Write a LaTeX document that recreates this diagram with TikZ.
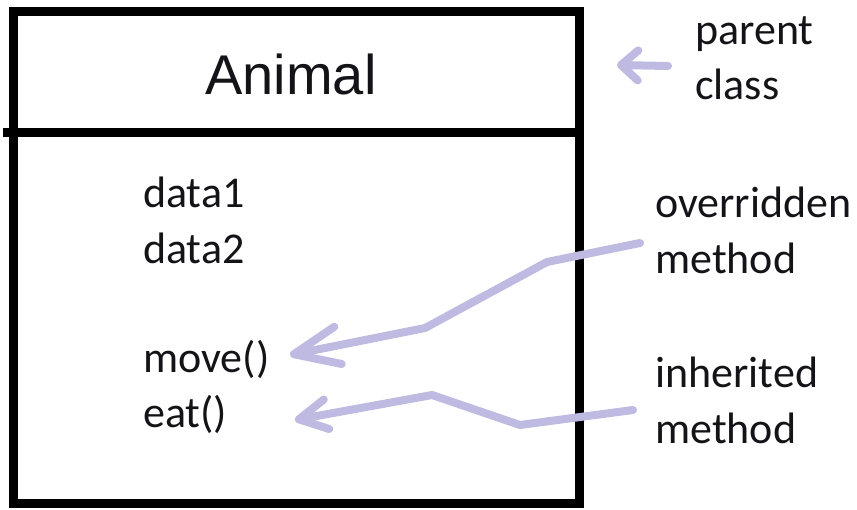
\documentclass[tikz,border=0pt]{standalone}
\usepackage{fontspec}
\setmainfont{Carlito}
\newfontfamily\titlefont{Liberation Sans}
\usetikzlibrary{arrows.meta}
\definecolor{pointer}{RGB}{190,186,226}
\definecolor{ink}{RGB}{20,20,24}
\begin{document}
\begin{tikzpicture}[x=1pt,y=-1pt,
  txt/.style={anchor=base west,inner sep=0pt,text=ink,font=\fontsize{44}{54}\selectfont},
  boxline/.style={line width=9pt,draw=black},
  pointerline/.style={draw=pointer,line width=8pt,line cap=round,line join=round},
]
\useasboundingbox (0,0) rectangle (857,510);
% class box with title compartment
\draw[boxline] (13,12) rectangle (579,503);
\draw[boxline] (3,133) -- (579,133);
\node[anchor=base,inner sep=0pt,text=ink,font=\titlefont\fontsize{56}{66}\selectfont] (title) at (291,95) {Animal};
% members
\node[txt] (d1) at (143,208) {data1};
\node[txt] (d2) at (143,264) {data2};
\node[txt] (mv) at (143,373) {move()};
\node[txt] (et) at (143,428) {eat()};
% annotations
\node[txt] (pc1) at (695,45) {parent};
\node[txt] (pc2) at (695,100) {class};
\node[txt] (ov1) at (655,218) {overridden};
\node[txt] (ov2) at (655,274) {method};
\node[txt] (in1) at (655,388) {inherited};
\node[txt] (in2) at (655,443) {method};
% pointer ends
\coordinate (pcS) at (668,66);
\coordinate (pcT) at (617,65);
\coordinate (ovS) at (640,243);
\coordinate (ovT) at (290,355);
\coordinate (inS) at (633,410);
\coordinate (inT) at (295,420);
% hand-drawn pointers
\draw[pointerline,-{Straight Barb[length=17pt,width=30pt,round]}] (pcS) -- (pcT);
\draw[pointerline,-{Straight Barb[length=45pt,width=38pt,round]}] (ovS) -- (547,262) -- (425,328) -- (ovT);
\draw[pointerline,-{Straight Barb[length=28pt,width=30pt,round]}] (inS) -- (520,425) -- (432,395) -- (inT);
\end{tikzpicture}
\end{document}
